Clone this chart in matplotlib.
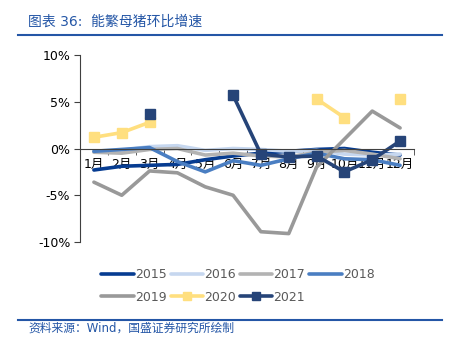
import numpy as np
import matplotlib
matplotlib.use('Agg')
import matplotlib.pyplot as plt
from matplotlib.lines import Line2D

plt.rcParams['font.family'] = ['DejaVu Sans', 'Noto Sans CJK SC']

# ── Data (环比增速, %) ─────────────────────────────────────────────────────────
months = ['1月', '2月', '3月', '4月', '5月', '6月', '7月', '8月', '9月', '10月', '11月', '12月']
nan = np.nan
y2015 = [-2.3, -1.9, -1.8, -1.7, -1.2, -0.8, -0.5, -0.3, -0.1, 0.0, -0.4, -0.7]
y2016 = [-0.3, -0.2, 0.2, 0.3, -0.2, 0.0, -0.1, -0.3, -0.2, -0.6, -0.7, -0.6]
y2017 = [-0.4, -0.5, -0.1, 0.0, -0.7, -0.5, -0.8, -0.9, -0.4, -0.2, -0.6, -1.1]
y2018 = [-0.3, -0.1, 0.1, -1.4, -2.5, -1.3, -1.8, -1.1, -0.5, -1.1, -1.2, -1.8]
y2019 = [-3.6, -5.0, -2.4, -2.6, -4.1, -5.0, -8.9, -9.1, -2.0, 1.0, 4.0, 2.2]
y2020 = [1.2, 1.7, 2.8, nan, nan, nan, nan, nan, 5.3, 3.3, nan, 5.3]
y2021 = [nan, nan, 3.7, nan, nan, 5.7, -0.6, -0.9, -0.8, -2.5, -1.2, 0.8]

series = [
    ('2015', y2015, '#063c91', None),
    ('2016', y2016, '#c6d7ef', None),
    ('2017', y2017, '#b3b3b3', None),
    ('2018', y2018, '#4a7ec2', None),
    ('2019', y2019, '#999999', None),
    ('2020', y2020, '#ffdf7f', 's'),
    ('2021', y2021, '#264478', 's'),
]

# ── Figure ────────────────────────────────────────────────────────────────────
fig = plt.figure(figsize=(4.53, 3.53), dpi=100)
ax = fig.add_axes([80/453, 1 - 242/353, 334/453, 187/353])

x = np.arange(len(months))
handles = {}
for name, vals, col, mk in series:
    ln, = ax.plot(x, vals, color=col, lw=2.6, marker=mk, markersize=6.5,
                  solid_capstyle='round', label=name)
    handles[name] = ln

ax.set_xlim(-0.5, 11.5)
ax.set_ylim(-10, 10)
ax.set_yticks([-10, -5, 0, 5, 10])
ax.set_yticklabels(['-10%', '-5%', '0%', '5%', '10%'], fontsize=9)

ax.spines['top'].set_visible(False)
ax.spines['right'].set_visible(False)
ax.spines['bottom'].set_position(('data', 0))
ax.spines['bottom'].set_color('#404040')
ax.spines['left'].set_color('#404040')
ax.spines['bottom'].set_linewidth(0.8)
ax.spines['left'].set_linewidth(0.8)

ax.set_xticks(x)
ax.set_xticklabels(months, fontsize=9)
ax.set_xticks(np.arange(-0.5, 12, 1), minor=True)
ax.tick_params(axis='x', which='major', length=0, pad=7)
ax.tick_params(axis='x', which='minor', length=4, color='#404040')
ax.tick_params(axis='y', length=4, color='#404040', pad=3)

# legend in row-major order (2 rows x 4)
order = ['2015', '2019', '2016', '2020', '2017', '2021', '2018']
leg = fig.legend([handles[k] for k in order], order, ncol=4, numpoints=1,
                 loc='upper left', bbox_to_anchor=(90/453, 1 - 257/353),
                 frameon=False, fontsize=9, handlelength=2.6, markerscale=0.8,
                 handletextpad=0.1, columnspacing=0.3, labelspacing=0.75,
                 labelcolor='#595959')

# ── Header / footer ───────────────────────────────────────────────────────────
fig.text(28/453, 1 - 22/353, '图表 36:  能繁母猪环比增速', fontsize=10,
         color='#2456a6', va='center', ha='left')
fig.add_artist(Line2D([18/453, 442/453], [1 - 35/353, 1 - 35/353],
                      color='#2456a6', lw=1.5))
fig.add_artist(Line2D([18/453, 442/453], [1 - 320/353, 1 - 320/353],
                      color='#2456a6', lw=1.5))
fig.text(28/453, 1 - 328/353, '资料来源：Wind，国盛证券研究所绘制', fontsize=8.5,
         color='#2456a6', va='center', ha='left')

fig.savefig('out.png', dpi=100)
